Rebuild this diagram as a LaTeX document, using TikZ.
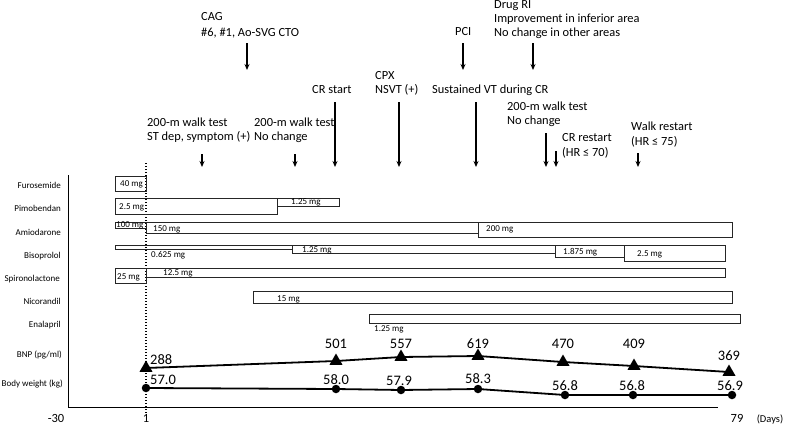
\documentclass[tikz,border=0pt]{standalone}
\usepackage{fontspec}
\setmainfont{Carlito}
\usetikzlibrary{arrows.meta,shapes.geometric}
\begin{document}
\begin{tikzpicture}[x=1pt,y=-1pt,
  evtxt/.style={font=\fontsize{12.4}{15}\selectfont, inner sep=0pt, text height=0.64em, text depth=0pt, anchor=west},
  drug/.style={font=\fontsize{9}{11}\selectfont, inner sep=0pt, text height=0.64em, text depth=0pt, anchor=east},
  dose/.style={font=\fontsize{9}{11}\selectfont, inner sep=0pt, text height=0.64em, text depth=0pt, anchor=west},
  num/.style={font=\fontsize{14.5}{16}\selectfont, inner sep=0pt, text height=0.64em, text depth=0pt},
  axnum/.style={font=\fontsize{12.5}{14}\selectfont, inner sep=0pt, text height=0.64em, text depth=0pt},
  bar/.style={draw=black!85, line width=0.8pt},
  evarrow/.style={-{Stealth[length=6pt,width=5pt]}, line width=1.2pt},
  axisline/.style={line width=0.8pt},
  dataline/.style={line width=1.8pt},
  tri/.style={regular polygon, regular polygon sides=3, fill=black, inner sep=0pt, minimum size=15pt},
  dot/.style={circle, fill=black, inner sep=0pt, minimum size=8.5pt}
]
\useasboundingbox (0,0) rectangle (785,426);

% axes
\coordinate (axtop) at (68,175);
\coordinate (axorig) at (68,407);
\coordinate (axend) at (718,407);
\draw[axisline] (axtop) -- (axorig) -- (axend);
\coordinate (dtop) at (146,163);
\coordinate (dbot) at (146,413);
\draw[line width=1.3pt, dash pattern=on 1.2pt off 1.8pt] (dtop) -- (dbot);

\node[axnum] (tm30) at (56,419) {-30};
\node[axnum] (t1) at (146,419) {1};
\node[axnum] (t79) at (737,419) {79};
\node[font=\fontsize{10.5}{12}\selectfont, inner sep=0pt, text height=0.64em, text depth=0pt] (days) at (770,419) {(Days)};

% event annotations
\node[evtxt] (cag1) at (201,17) {CAG};
\node[evtxt] (cag2) at (201,33) {\#6, \#1, Ao-SVG CTO};
\coordinate (cagA) at (247,43); \coordinate (cagB) at (247,70);
\draw[evarrow] (cagA) -- (cagB);

\node[evtxt] (pci) at (455,32) {PCI};
\coordinate (pciA) at (463,43); \coordinate (pciB) at (463,70);
\draw[evarrow] (pciA) -- (pciB);

\node[evtxt] (ri1) at (494,5) {Drug RI};
\node[evtxt] (ri2) at (494,19) {Improvement in inferior area};
\node[evtxt] (ri3) at (494,33) {No change in other areas};
\coordinate (riA) at (533,43); \coordinate (riB) at (533,70);
\draw[evarrow] (riA) -- (riB);

\node[evtxt] (crs) at (312,90) {CR start};
\coordinate (crsA) at (335,102); \coordinate (crsB) at (335,167);
\draw[evarrow] (crsA) -- (crsB);

\node[evtxt] (cpx1) at (375,76) {CPX};
\node[evtxt] (cpx2) at (375,90) {NSVT (+)};
\coordinate (cpxA) at (399,102); \coordinate (cpxB) at (399,167);
\draw[evarrow] (cpxA) -- (cpxB);

\node[evtxt] (svt) at (432,90) {Sustained VT during CR};
\coordinate (svtA) at (476,102); \coordinate (svtB) at (476,167);
\draw[evarrow] (svtA) -- (svtB);

\node[evtxt] (w1a) at (147,123) {200-m walk test};
\node[evtxt] (w1b) at (147,137) {ST dep, symptom (+)};
\coordinate (w1A) at (202,154); \coordinate (w1B) at (202,167);
\draw[evarrow] (w1A) -- (w1B);

\node[evtxt] (w2a) at (254,123) {200-m walk test};
\node[evtxt] (w2b) at (254,137) {No change};
\coordinate (w2A) at (295,154); \coordinate (w2B) at (295,167);
\draw[evarrow] (w2A) -- (w2B);

\node[evtxt] (w3a) at (507,107) {200-m walk test};
\node[evtxt] (w3b) at (507,121) {No change};
\coordinate (w3A) at (546,133); \coordinate (w3B) at (546,167);
\draw[evarrow] (w3A) -- (w3B);

\node[evtxt] (crr1) at (562,138) {CR restart};
\node[evtxt] (crr2) at (562,153) {(HR ≤ 70)};
\coordinate (crrA) at (556,151); \coordinate (crrB) at (556,167);
\draw[evarrow] (crrA) -- (crrB);

\node[evtxt] (wr1) at (631,127) {Walk restart};
\node[evtxt] (wr2) at (631,142) {(HR ≤ 75)};
\coordinate (wrA) at (638,153); \coordinate (wrB) at (638,167);
\draw[evarrow] (wrA) -- (wrB);

% drug labels
\node[drug] (lfur) at (61,185) {Furosemide};
\node[drug] (lpim) at (61,208) {Pimobendan};
\node[drug] (lami) at (61,232) {Amiodarone};
\node[drug] (lbis) at (61,255) {Bisoprolol};
\node[drug] (lspi) at (60,278) {Spironolactone};
\node[drug] (lnic) at (61,301) {Nicorandil};
\node[drug] (lena) at (61,324) {Enalapril};
\node[drug] (lbnp) at (62,354) {BNP (pg/ml)};
\node[drug] (lbw) at (63,383) {Body weight (kg)};

% drug bars
\draw[bar] (115,176) rectangle (146,191);
\node[dose] (d1) at (120,183) {40 mg};

\draw[bar] (115,198) rectangle (277,214);
\node[dose] (d2) at (119,206) {2.5 mg};
\draw[bar] (277,198) rectangle (339,206);
\node[dose] (d3) at (291,201) {1.25 mg};

\draw[bar] (115,222) rectangle (146,228);
\node[dose] (d4) at (116,224) {100 mg};
\draw[bar] (146,222) rectangle (478,233);
\node[dose] (d5) at (153,228) {150 mg};
\draw[bar] (478,222) rectangle (732,237);
\node[dose] (d6) at (486,228) {200 mg};

\draw[bar] (115,245) rectangle (292,249);
\node[dose] (d7) at (151,254) {0.625 mg};
\draw[bar] (292,245) rectangle (555,253);
\node[dose] (d8) at (302,249) {1.25 mg};
\draw[bar] (555,245) rectangle (624,257);
\node[dose] (d9) at (563,251) {1.875 mg};
\draw[bar] (624,245) rectangle (725,261);
\node[dose] (d10) at (637,253) {2.5 mg};

\draw[bar] (115,268) rectangle (146,283);
\node[dose] (d11) at (117,276) {25 mg};
\draw[bar] (146,268) rectangle (725,277);
\node[dose] (d12) at (163,272) {12.5 mg};

\draw[bar] (253,291) rectangle (732,303);
\node[dose] (d13) at (277,298) {15 mg};

\draw[bar] (369,314) rectangle (740,323);
\node[dose] (d14) at (374,328) {1.25 mg};

% BNP
\node[tri] (b1) at (146,368) {};
\node[tri] (b2) at (336,361) {};
\node[tri] (b3) at (401,357) {};
\node[tri] (b4) at (478,356) {};
\node[tri] (b5) at (563,362) {};
\node[tri] (b6) at (634,366) {};
\node[tri] (b7) at (729,372) {};
\draw[dataline] (b1.center) -- (b2.center) -- (b3.center) -- (b4.center) -- (b5.center) -- (b6.center) -- (b7.center);
\node[num, anchor=west] (n1) at (150,361) {288};
\node[num] (n2) at (336,345) {501};
\node[num] (n3) at (401,345) {557};
\node[num] (n4) at (478,345) {619};
\node[num] (n5) at (563,345) {470};
\node[num] (n6) at (634,345) {409};
\node[num] (n7) at (729,357) {369};

% Body weight
\node[dot] (c1) at (146,388) {};
\node[dot] (c2) at (336,389) {};
\node[dot] (c3) at (401,390) {};
\node[dot] (c4) at (478,389) {};
\node[dot] (c5) at (565,395) {};
\node[dot] (c6) at (633,395) {};
\node[dot] (c7) at (732,395) {};
\draw[dataline] (c1.center) -- (c2.center) -- (c3.center) -- (c4.center) -- (c5.center) -- (c6.center) -- (c7.center);
\node[num, anchor=west] (m1) at (150,381) {57.0};
\node[num] (m2) at (336,381) {58.0};
\node[num] (m3) at (399,382) {57.9};
\node[num] (m4) at (478,380) {58.3};
\node[num] (m5) at (565,387) {56.8};
\node[num] (m6) at (632,387) {56.8};
\node[num] (m7) at (730,387) {56.9};
\end{tikzpicture}
\end{document}
